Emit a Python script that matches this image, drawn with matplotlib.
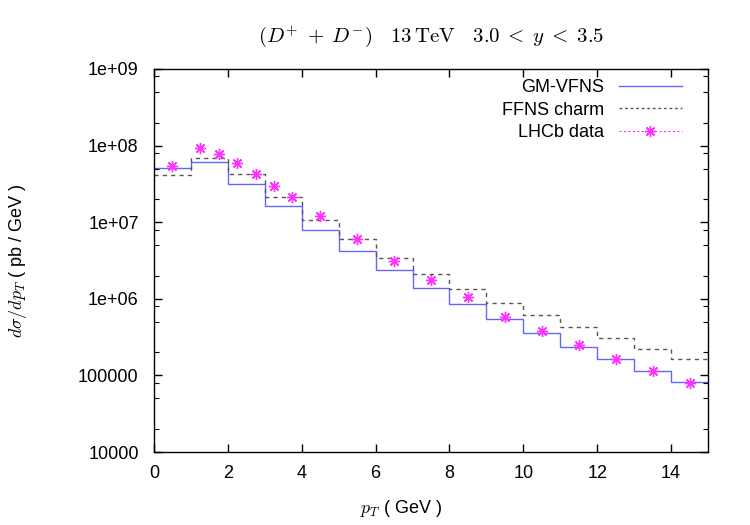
import numpy as np
import matplotlib
matplotlib.use("Agg")
import matplotlib.pyplot as plt
from matplotlib.lines import Line2D
from matplotlib.ticker import LogLocator, NullFormatter

# bin edges in pT (GeV)
pt_edges = np.arange(0, 16, 1)

# theory predictions per bin (pb/GeV)
gmvfns = [5.1e7, 6.15e7, 3.16e7, 1.62e7, 8.0e6, 4.24e6, 2.39e6, 1.38e6,
          8.5e5, 5.4e5, 3.54e5, 2.38e5, 1.66e5, 1.15e5, 8.3e4]
ffns_charm = [4.15e7, 6.8e7, 4.28e7, 2.15e7, 1.08e7, 5.97e6, 3.43e6, 2.11e6,
              1.33e6, 8.9e5, 6.1e5, 4.24e5, 3.07e5, 2.22e5, 1.64e5]

# LHCb measurement
lhcb_pt = [0.5, 1.25, 1.75, 2.25, 2.75, 3.25, 3.75, 4.5, 5.5, 6.5, 7.5, 8.5,
           9.5, 10.5, 11.5, 12.5, 13.5, 14.5]
lhcb_xs = [5.46e7, 9.4e7, 7.77e7, 5.86e7, 4.24e7, 3.0e7, 2.13e7, 1.19e7,
           6.1e6, 3.16e6, 1.74e6, 1.06e6, 5.86e5, 3.83e5, 2.53e5, 1.64e5,
           1.15e5, 7.9e4]
lhcb_err = [5.5e6, 9.0e6, 7.0e6, 5.0e6, 3.5e6, 2.5e6, 1.7e6, 9.0e5,
            4.5e5, 2.3e5, 1.3e5, 8.0e4, 4.5e4, 3.0e4, 2.0e4, 1.3e4,
            9.0e3, 7.0e3]

yticks = [1e4, 1e5, 1e6, 1e7, 1e8, 1e9]
ytick_labels = ["10000", "100000", "1e+06", "1e+07", "1e+08", "1e+09"]

plt.rcParams["font.family"] = ["Liberation Sans", "DejaVu Sans"]
plt.rcParams["mathtext.fontset"] = "cm"

fig = plt.figure(figsize=(7.5, 5.25), dpi=100)
ax = fig.add_axes([0.2053, 0.139, 0.7387, 0.7296])

blue = "#6464ff"
grey = "#555555"
magenta = "#ff33ff"

ax.stairs(gmvfns, pt_edges, color=blue, lw=1.0, baseline=None)
ax.stairs(ffns_charm, pt_edges, color=grey, lw=1.0, ls=(0, (3, 3)), baseline=None)
ax.errorbar(lhcb_pt, lhcb_xs, yerr=lhcb_err, fmt="none", ecolor=magenta,
            elinewidth=0.8, capsize=0)
ax.plot(lhcb_pt, lhcb_xs, ls="none", marker=(8, 2, 0), ms=8, mew=1.0,
        color=magenta)

ax.set_yscale("log")
ax.set_xlim(0, 15)
ax.set_ylim(1e4, 1e9)
ax.set_xticks(np.arange(0, 15, 2))
ax.set_yticks(yticks)
ax.set_yticklabels(ytick_labels)
ax.yaxis.set_minor_locator(LogLocator(base=10, subs=(2, 5, 8)))
ax.yaxis.set_minor_formatter(NullFormatter())

ax.tick_params(which="both", direction="in", top=True, right=True,
               labelsize=13)
ax.tick_params(which="major", length=6, width=1.0)
ax.tick_params(which="minor", length=3.5, width=0.8)
ax.tick_params(axis="x", pad=9)
ax.tick_params(axis="y", pad=11)
for sp in ax.spines.values():
    sp.set_linewidth(1.0)

ax.set_xlabel(r"$p_T$ ( GeV )", fontsize=13)
ax.xaxis.set_label_coords(0.446, -0.12)
ax.set_ylabel(r"$d\sigma/dp_T$ ( pb / GeV )", fontsize=13)
ax.yaxis.set_label_coords(-0.225, 0.5)
ax.set_title(r"$(D^{+}\; +\; D^{-})\quad 13\,\mathrm{TeV}\quad 3.0\; <\; y\; <\; 3.5$",
             fontsize=15, y=1.05)

handles = [
    Line2D([], [], color=blue, lw=1.0),
    Line2D([], [], color=grey, lw=1.0, ls=(0, (2, 2))),
    Line2D([], [], color=magenta, lw=0.8, ls=(0, (2, 2)),
           marker=(8, 2, 0), ms=8, mew=1.0),
]
ax.legend(handles, ["GM-VFNS", "FFNS charm", "LHCb data"], loc="upper right",
          markerfirst=False, frameon=False, fontsize=13, numpoints=1,
          handlelength=3.5, handletextpad=0.8, labelspacing=0.3,
          bbox_to_anchor=(0.982, 1.016))

fig.savefig("out.png", dpi=100)
